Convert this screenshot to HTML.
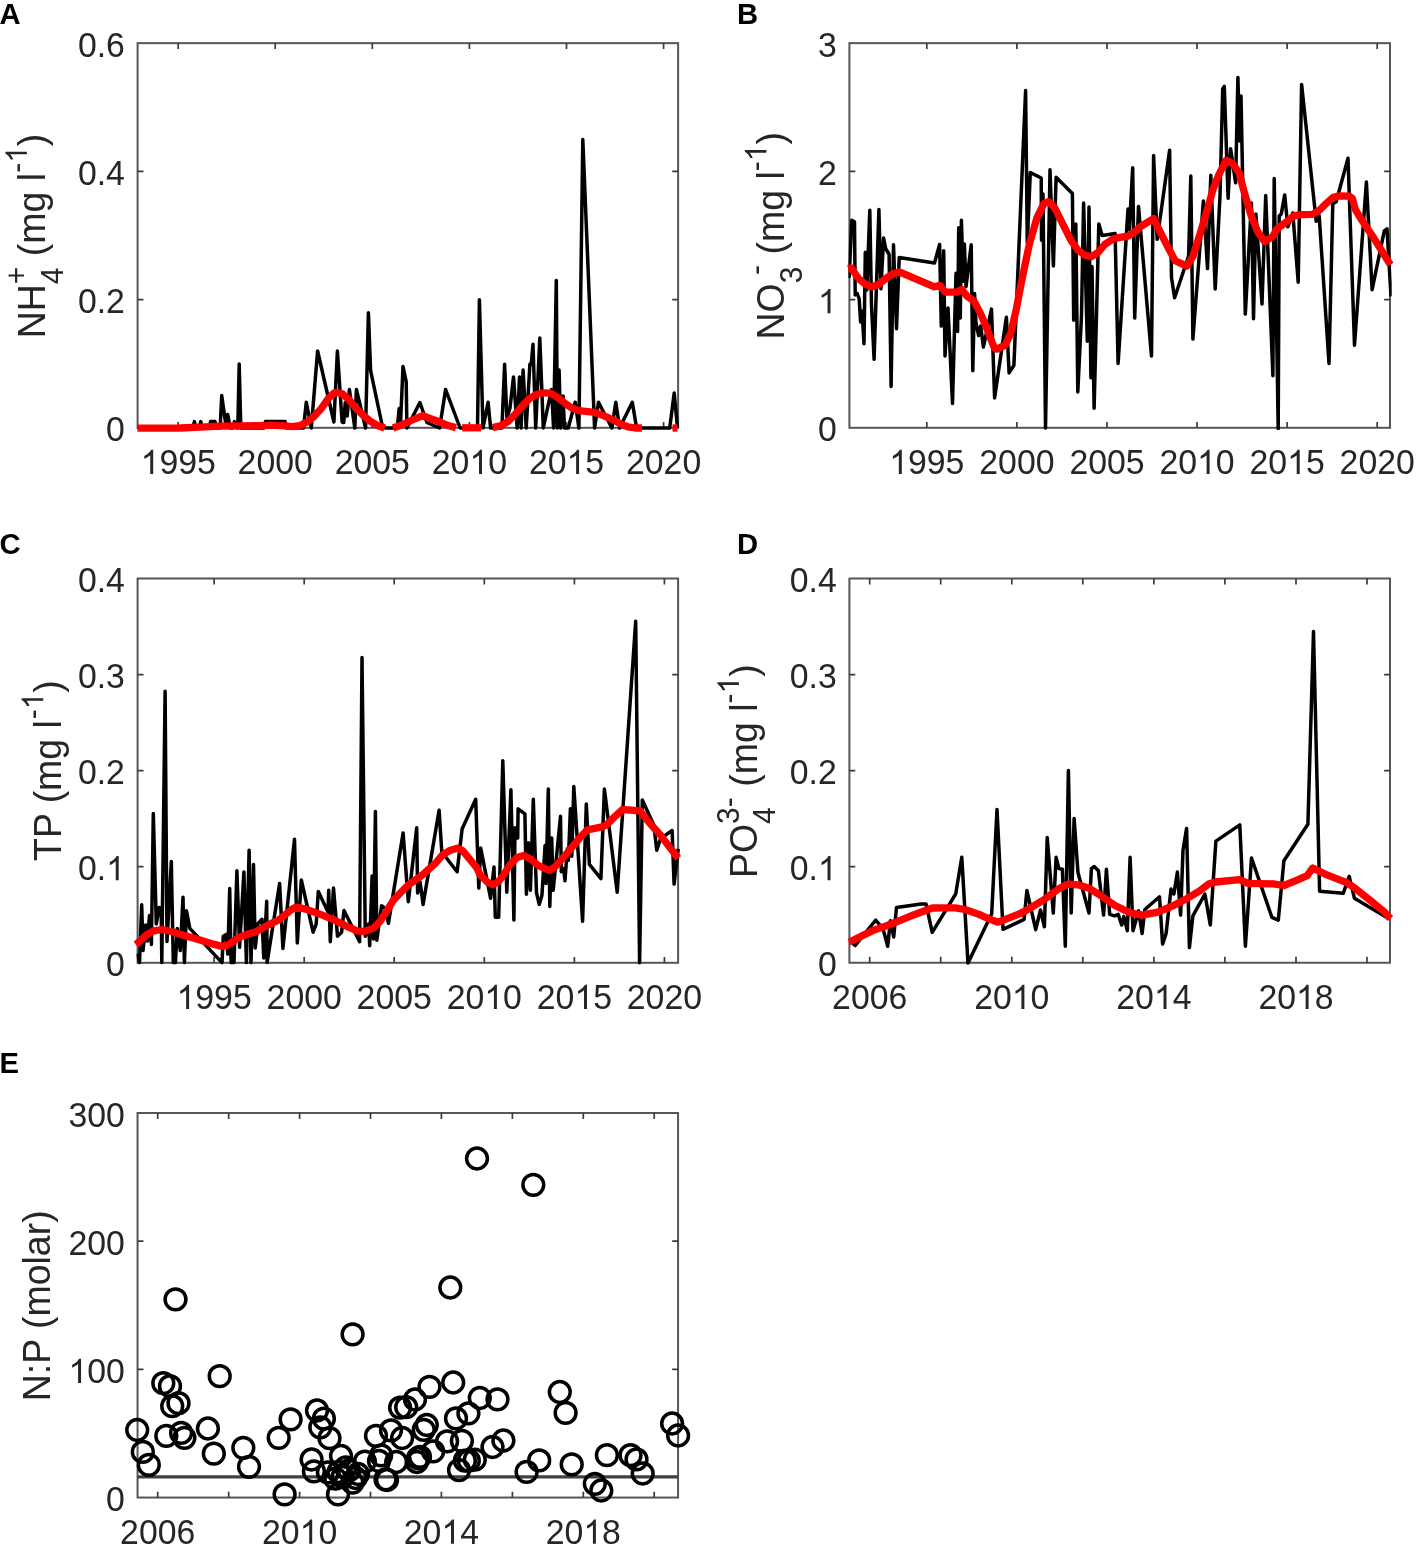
<!DOCTYPE html>
<html lang="en"><head><meta charset="utf-8"><title>Figure</title>
<style>
html,body{margin:0;padding:0;background:#fff}
svg{display:block}
text{font-family:"Liberation Sans",sans-serif;fill:#262626}
text{filter:grayscale(1)}
.t{font-size:33.8px}
.l{font-size:37.5px}
.s{font-size:30.00px}
  .b{font-size:29.2px;font-weight:bold;fill:#000}
</style></head><body>
<svg width="1418" height="1549" viewBox="0 0 1418 1549">
<rect width="1418" height="1549" fill="#fff"/>
<defs>
<clipPath id="ca"><rect x="136.5" y="43" width="543.5" height="387"/></clipPath>
<clipPath id="cb"><rect x="848.5" y="43" width="543.2" height="387"/></clipPath>
<clipPath id="cc"><rect x="136.5" y="578" width="543.5" height="387"/></clipPath>
<clipPath id="cd"><rect x="848.5" y="578" width="543.2" height="387"/></clipPath>
<clipPath id="ce"><rect x="137.5" y="1113" width="541" height="384"/></clipPath>
</defs>

<rect x="137.6" y="43.15" width="540.5" height="384.65000000000003" fill="none" stroke="#565656" stroke-width="2.0"/>
<path d="M178.2,427.8v-5.9M178.2,43.15v5.9M275.2,427.8v-5.9M275.2,43.15v5.9M372.3,427.8v-5.9M372.3,43.15v5.9M469.4,427.8v-5.9M469.4,43.15v5.9M566.5,427.8v-5.9M566.5,43.15v5.9M663.6,427.8v-5.9M663.6,43.15v5.9M137.6,299.6h5.9M678.1,299.6h-5.9M137.6,171.4h5.9M678.1,171.4h-5.9" fill="none" stroke="#3c3c3c" stroke-width="1.7"/>
<path transform="translate(140.61,474.10) scale(0.01650,-0.01650)" d="M763 0H583V1147Q518 1085 412.5 1023T223 930V1104Q373 1175 485.5 1275T645 1470H763Z" fill="#262626"/>
<text transform="translate(159.41,474.10) scale(1,1.04)" class="t">995</text>
<text transform="translate(237.61,474.10) scale(1,1.04)" class="t">2000</text>
<text transform="translate(334.71,474.10) scale(1,1.04)" class="t">2005</text>
<text transform="translate(431.81,474.10) scale(1,1.04)" class="t">20</text>
<path transform="translate(469.40,474.10) scale(0.01650,-0.01650)" d="M763 0H583V1147Q518 1085 412.5 1023T223 930V1104Q373 1175 485.5 1275T645 1470H763Z" fill="#262626"/>
<text transform="translate(488.19,474.10) scale(1,1.04)" class="t">0</text>
<text transform="translate(528.91,474.10) scale(1,1.04)" class="t">20</text>
<path transform="translate(566.50,474.10) scale(0.01650,-0.01650)" d="M763 0H583V1147Q518 1085 412.5 1023T223 930V1104Q373 1175 485.5 1275T645 1470H763Z" fill="#262626"/>
<text transform="translate(585.29,474.10) scale(1,1.04)" class="t">5</text>
<text transform="translate(626.01,474.10) scale(1,1.04)" class="t">2020</text>
<text transform="translate(106.11,441.40) scale(1,1.04)" class="t">0</text>
<text transform="translate(77.92,313.20) scale(1,1.04)" class="t">0.2</text>
<text transform="translate(77.92,185.00) scale(1,1.04)" class="t">0.4</text>
<text transform="translate(77.92,56.75) scale(1,1.04)" class="t">0.6</text>
<polyline points="137.5,428 192.8,428 194.4,421.6 196,428 199.2,428 200.8,421.6 202.4,428 209,428 210.6,421.6 215,421.6 216.6,428 220.2,428 221.7,395.5 225.8,424 227.7,414.5 230.3,428 232.8,428 234.4,421.6 236.4,426 237.8,428 239.2,364 240.8,428 263.8,428 265.4,421.6 285.1,421.6 286.7,428 303.5,428 306.3,402.3 311.3,428 317.6,351 333.9,422 337.4,351 342.1,422 343.7,422.5 345.3,402.5 347.2,416 349.4,389.5 354.8,428 356.4,389.5 365.6,428 368.4,312.7 370.6,370.5 382,424.5 385.3,428 397.3,428 399.2,408.5 400.5,424 403,366.5 406.2,381.5 406.9,428 419.9,402.5 426.9,422.5 439.6,428 445.6,389.5 460.1,428 477.5,428 479.4,299.8 483,428 488.1,402.3 490.6,428 501.9,428 504.6,364.2 506.9,418 510,408 513.5,377 517.2,428 519.5,377 521.1,428 523.1,370 526.2,428 529.9,364 531.3,364 533,344.3 535.7,428 539.8,338 543.3,428 551.5,389.6 553.6,428 556.3,280.5 557.3,428 559.1,370 560.6,428 563.1,396 564.4,428 568.2,428 575.2,402.3 578.9,428 582.8,139.5 594.6,428 598.5,402.3 611.9,428 615.8,402.3 619.6,428 632.3,402.3 636.6,428 669.7,428 674.2,393 677.5,428" fill="none" stroke="#000" stroke-width="3.5" stroke-linejoin="round" stroke-linecap="butt" clip-path="url(#ca)"/>
<polyline points="137.5,428.2 180,428 200,427.2 220,426.2 240,425.8 260,425.6 271,425.2 285,425.9 292,426.6 300,425.5 307.1,422 314.1,416.4 321.2,408.6 328.2,398.7 333.9,393.1 337.4,392.4 342.3,393.8 349.4,400.1 356.4,408.6 363.5,415.7 370.5,421.3 377.6,425.5 384.6,428" fill="none" stroke="#f00" stroke-width="7.3" stroke-linejoin="round" stroke-linecap="butt"/>
<polyline points="393.1,428 400,425.5 408,422 415,418.8 422.7,415.7 430,418.5 440,422 448,425.5 455.9,427.6" fill="none" stroke="#f00" stroke-width="7.3" stroke-linejoin="round" stroke-linecap="butt"/>
<polyline points="462.2,427.8 481.2,427.8" fill="none" stroke="#f00" stroke-width="7.3" stroke-linejoin="round" stroke-linecap="butt"/>
<polyline points="492.7,427.6 501.2,425.5 508.2,421.3 515.3,414.2 522.3,405.8 529.4,398.7 536.4,394.5 543.5,392.8 550.5,393.1 557.6,397.3 564.6,403 571.7,407.9 578.7,410.7 585.8,411.4 592.8,412.1 599.9,414.2 606.9,417.1 614,420.6 621,424.1 628.1,426.9 635.1,428 641.9,428" fill="none" stroke="#f00" stroke-width="7.3" stroke-linejoin="round" stroke-linecap="butt"/>
<polyline points="672.5,428 677.5,428" fill="none" stroke="#f00" stroke-width="7.3" stroke-linejoin="round" stroke-linecap="butt"/>
<g transform="translate(44.9,236.0) rotate(-90)">
<text transform="translate(-102.29,0.00) scale(1,1.04)" class="l">NH</text>
<text transform="translate(-48.14,18.00) scale(1,1.04)" class="s">4</text>
<text transform="translate(-48.14,-18.00) scale(1,1.04)" class="s">+</text>
<text transform="translate(-20.19,0.00) scale(1,1.04)" class="l">(mg l</text>
<text transform="translate(63.13,-18.00) scale(1,1.04)" class="s">-</text>
<path transform="translate(73.12,-18.00) scale(0.01465,-0.01465)" d="M763 0H583V1147Q518 1085 412.5 1023T223 930V1104Q373 1175 485.5 1275T645 1470H763Z" fill="#262626"/>
<text transform="translate(89.80,0.00) scale(1,1.04)" class="l">)</text>
</g>
<text transform="translate(-0.4,24.2) scale(1,1.04)" class="b">A</text>
<rect x="849.4" y="43.15" width="540.6" height="384.65000000000003" fill="none" stroke="#565656" stroke-width="2.0"/>
<path d="M926.8,427.8v-5.9M926.8,43.15v5.9M1016.9,427.8v-5.9M1016.9,43.15v5.9M1107.0,427.8v-5.9M1107.0,43.15v5.9M1197.0,427.8v-5.9M1197.0,43.15v5.9M1287.1,427.8v-5.9M1287.1,43.15v5.9M1377.2,427.8v-5.9M1377.2,43.15v5.9M849.4,299.6h5.9M1390.0,299.6h-5.9M849.4,171.4h5.9M1390.0,171.4h-5.9" fill="none" stroke="#3c3c3c" stroke-width="1.7"/>
<path transform="translate(889.21,474.10) scale(0.01650,-0.01650)" d="M763 0H583V1147Q518 1085 412.5 1023T223 930V1104Q373 1175 485.5 1275T645 1470H763Z" fill="#262626"/>
<text transform="translate(908.01,474.10) scale(1,1.04)" class="t">995</text>
<text transform="translate(979.31,474.10) scale(1,1.04)" class="t">2000</text>
<text transform="translate(1069.41,474.10) scale(1,1.04)" class="t">2005</text>
<text transform="translate(1159.41,474.10) scale(1,1.04)" class="t">20</text>
<path transform="translate(1197.00,474.10) scale(0.01650,-0.01650)" d="M763 0H583V1147Q518 1085 412.5 1023T223 930V1104Q373 1175 485.5 1275T645 1470H763Z" fill="#262626"/>
<text transform="translate(1215.79,474.10) scale(1,1.04)" class="t">0</text>
<text transform="translate(1249.51,474.10) scale(1,1.04)" class="t">20</text>
<path transform="translate(1287.10,474.10) scale(0.01650,-0.01650)" d="M763 0H583V1147Q518 1085 412.5 1023T223 930V1104Q373 1175 485.5 1275T645 1470H763Z" fill="#262626"/>
<text transform="translate(1305.89,474.10) scale(1,1.04)" class="t">5</text>
<text transform="translate(1339.61,474.10) scale(1,1.04)" class="t">2020</text>
<text transform="translate(817.91,441.40) scale(1,1.04)" class="t">0</text>
<path transform="translate(817.91,313.20) scale(0.01650,-0.01650)" d="M763 0H583V1147Q518 1085 412.5 1023T223 930V1104Q373 1175 485.5 1275T645 1470H763Z" fill="#262626"/>
<text transform="translate(817.91,185.00) scale(1,1.04)" class="t">2</text>
<text transform="translate(817.91,56.75) scale(1,1.04)" class="t">3</text>
<polyline points="849.1,278 851.8,220.3 854.5,221.7 855.2,294.9 857.2,293.5 859.2,299 860.6,322 862,311 864,343.7 865.3,252.2 866.8,290 869.8,210.2 871.5,305 874.1,359.3 878.9,209.5 880.9,288.8 883.6,238 885.7,248.8 889.1,254.2 891.1,386.4 893.5,244.7 896.5,328.8 899.2,257.6 934.5,263 939.6,244.5 941.3,326.1 943.7,250.8 945,355.9 948,308 952.5,403.4 956,273.2 957.6,331.5 958.7,227.8 960.3,318 961.4,220.3 963.3,281.3 964.4,244.1 966,286.8 971.2,244.7 972.8,370.8 974.6,293.5 975.9,322 978.6,335.6 980.7,326 983.4,347.1 991.5,309.1 994.6,397.9 1006.4,317.3 1009.1,372.9 1013.9,365.4 1025.6,90.5 1027.3,243 1030.3,172.5 1041.2,178 1041.5,240.3 1043,194 1045.5,428 1050,169.8 1053.4,266 1056.1,177.3 1072.4,193.5 1073.7,320.2 1075.8,224 1077.8,392 1081.5,315 1083.6,203 1087.3,341.2 1089,207.1 1090.9,377.8 1092,266.6 1094.1,408.3 1098.8,224 1102.2,235.6 1115.1,233.5 1118.1,363.5 1128,209.1 1129.3,229.5 1132.7,167.8 1134.7,318.1 1138.5,206.4 1151.5,356.1 1153.6,155.6 1157.2,239.3 1169.6,150.2 1171.5,277.5 1174.6,297.8 1188.6,256 1190.8,175.9 1192.9,339.1 1203.4,201 1207.5,268.6 1210.8,175.2 1215.2,289 1220,195.6 1222.7,89 1224.3,86.4 1228.1,198.3 1230.6,148.8 1235.6,182.7 1237.9,77.4 1239.7,141 1241,95.9 1245.3,314.1 1251.4,203 1253.5,318.8 1255.9,213.9 1262,303.9 1265.7,195.6 1272.9,375.7 1274.2,178.6 1278.2,428.5 1279.2,215.9 1281.3,213.9 1284.7,194.9 1287.8,226.8 1292.8,213 1298.2,282.2 1301.6,84.4 1316.2,221.3 1319.2,215.9 1329,363.5 1332.8,203.7 1336.2,201.7 1348,158.3 1354.5,345.2 1366.4,182 1372.1,289.7 1384.3,230.8 1387,228.8 1391,296.4" fill="none" stroke="#000" stroke-width="3.5" stroke-linejoin="round" stroke-linecap="butt" clip-path="url(#cb)"/>
<polyline points="848,268.5 851.1,267.8 858.6,278.6 865.3,284.1 872.1,286.8 878.9,284.1 885.7,278.6 892.5,273.9 899.2,271.9 934.5,286.8 939.9,285.4 945.4,292.2 956.3,292.2 961.7,289.5 967.1,296.3 973.9,301 980.7,313.9 987.5,330.2 994.2,347.8 996.9,349.1 1005.1,345.1 1010.5,334.2 1015.9,311.2 1021.3,282.7 1029.5,243.4 1037.1,217.3 1043.9,203.7 1048.6,201.7 1054.7,207.8 1064.2,226.8 1071,240.3 1077.8,249.8 1084.6,255.2 1091.3,256.6 1098.1,252.5 1104.9,244.4 1113,239 1118.5,237.6 1128,236.2 1134.7,232.2 1140,226.8 1153.6,218.6 1156.9,225.4 1167.1,245.7 1175.2,260.7 1186.8,266.1 1192.9,256.6 1201,230.8 1207.8,207.8 1213.2,188.8 1218.6,175.2 1226.1,160.3 1232.2,163 1239,172.5 1244.4,192.9 1251.2,215.9 1257.9,232.2 1264.7,241.7 1272.9,236.2 1276.5,229.5 1285.3,222.7 1294.1,215.9 1300.2,214.6 1312.5,214.3 1319.2,210.5 1326,203.7 1332.8,197.6 1338.2,196 1349.1,196.2 1352.4,198.3 1355.2,209.1 1359.9,217.3 1373.5,237.6 1390.4,264.7" fill="none" stroke="#f00" stroke-width="7.3" stroke-linejoin="round" stroke-linecap="butt"/>
<g transform="translate(784.4,235.75) rotate(-90)">
<text transform="translate(-103.72,0.00) scale(1,1.04)" class="l">NO</text>
<text transform="translate(-47.47,18.00) scale(1,1.04)" class="s">3</text>
<text transform="translate(-39.17,-18.00) scale(1,1.04)" class="s">-</text>
<text transform="translate(-18.76,0.00) scale(1,1.04)" class="l">(mg l</text>
<text transform="translate(64.57,-18.00) scale(1,1.04)" class="s">-</text>
<path transform="translate(74.56,-18.00) scale(0.01465,-0.01465)" d="M763 0H583V1147Q518 1085 412.5 1023T223 930V1104Q373 1175 485.5 1275T645 1470H763Z" fill="#262626"/>
<text transform="translate(91.24,0.00) scale(1,1.04)" class="l">)</text>
</g>
<text transform="translate(736.9,24.2) scale(1,1.04)" class="b">B</text>
<rect x="137.6" y="578.5" width="540.5" height="384.29999999999995" fill="none" stroke="#565656" stroke-width="2.0"/>
<path d="M214.1,962.8v-5.9M214.1,578.5v5.9M304.2,962.8v-5.9M304.2,578.5v5.9M394.2,962.8v-5.9M394.2,578.5v5.9M484.3,962.8v-5.9M484.3,578.5v5.9M574.4,962.8v-5.9M574.4,578.5v5.9M664.4,962.8v-5.9M664.4,578.5v5.9M137.6,866.7h5.9M678.1,866.7h-5.9M137.6,770.65h5.9M678.1,770.65h-5.9M137.6,674.6h5.9M678.1,674.6h-5.9" fill="none" stroke="#3c3c3c" stroke-width="1.7"/>
<path transform="translate(176.51,1009.10) scale(0.01650,-0.01650)" d="M763 0H583V1147Q518 1085 412.5 1023T223 930V1104Q373 1175 485.5 1275T645 1470H763Z" fill="#262626"/>
<text transform="translate(195.31,1009.10) scale(1,1.04)" class="t">995</text>
<text transform="translate(266.61,1009.10) scale(1,1.04)" class="t">2000</text>
<text transform="translate(356.61,1009.10) scale(1,1.04)" class="t">2005</text>
<text transform="translate(446.71,1009.10) scale(1,1.04)" class="t">20</text>
<path transform="translate(484.30,1009.10) scale(0.01650,-0.01650)" d="M763 0H583V1147Q518 1085 412.5 1023T223 930V1104Q373 1175 485.5 1275T645 1470H763Z" fill="#262626"/>
<text transform="translate(503.09,1009.10) scale(1,1.04)" class="t">0</text>
<text transform="translate(536.81,1009.10) scale(1,1.04)" class="t">20</text>
<path transform="translate(574.40,1009.10) scale(0.01650,-0.01650)" d="M763 0H583V1147Q518 1085 412.5 1023T223 930V1104Q373 1175 485.5 1275T645 1470H763Z" fill="#262626"/>
<text transform="translate(593.19,1009.10) scale(1,1.04)" class="t">5</text>
<text transform="translate(626.81,1009.10) scale(1,1.04)" class="t">2020</text>
<text transform="translate(106.11,976.40) scale(1,1.04)" class="t">0</text>
<text transform="translate(77.92,880.30) scale(1,1.04)" class="t">0.</text>
<path transform="translate(106.11,880.30) scale(0.01650,-0.01650)" d="M763 0H583V1147Q518 1085 412.5 1023T223 930V1104Q373 1175 485.5 1275T645 1470H763Z" fill="#262626"/>
<text transform="translate(77.92,784.25) scale(1,1.04)" class="t">0.2</text>
<text transform="translate(77.92,688.20) scale(1,1.04)" class="t">0.3</text>
<text transform="translate(77.92,592.10) scale(1,1.04)" class="t">0.4</text>
<polyline points="137.7,953.6 139.5,962.6 141.7,904.8 143,950.5 145.7,925 147.5,941 149.5,915.5 151.4,944.4 153.3,813.6 156.3,923.9 159.2,907.5 161.2,909 161.8,962.6 165.1,691.3 167,941.4 171.3,861.5 173.3,962.6 175.4,962.6 177.3,928.4 180.3,950.5 183,897.2 184.4,962.6 186.5,910.7 189.8,928.4 222,962.6 223.3,936.3 226.2,934.6 227.8,954 229.7,888.5 231.1,962.6 234,962.6 236.9,870.8 239.6,947.3 243.9,872 246.4,962.6 249.1,850.3 251,962.6 253.5,864.6 255.2,948 258,923.5 262,919.3 263.8,958 266.7,901.3 267.1,962.6 279.6,883.4 282.9,948.4 294.5,839.3 297.3,943 301.3,880 313.1,932.2 316.2,924 318.3,891.5 328,912 328.7,890.2 330.3,941.7 333.5,888.1 337.5,936.2 341.6,932.2 344,910.5 359.6,941.7 362,657.6 365.3,936.2 368.7,924 369.7,945.7 372.1,875.9 373.5,939 375.4,811.6 376.8,940.3 381.6,905.7 385.7,909 388.4,923.4 403.1,833 408.3,901.7 416.7,827.8 417.6,893 420.1,882 423.1,904.4 439.1,810.2 441.8,852 457.1,871.8 462.1,829.1 475.7,799.3 478.8,888.1 480.7,848.1 490.6,898.3 494,867.1 495.3,917.3 498.7,917.3 502.8,760.7 506.8,892.2 510.9,789.8 513.9,920 515,827.8 517.7,838 518.1,808.8 524.9,813.8 526.4,894.2 528.4,842.7 530.4,890.2 533.3,799.3 536.5,892.9 539.2,904.4 541.9,895.6 545.1,845.4 546,883.4 548.3,789.1 549.8,906.4 551.7,838 553.2,890.2 560.5,816.3 561.3,871.8 563.6,868.5 565,880.7 567.3,848.8 568.4,860.3 570.4,808.8 571.8,856.3 573.8,786.4 582.6,921.3 586.3,804.1 589.4,864.4 600.9,878.6 604.4,789.1 617.2,892.2 635.7,621.2 639.6,962.7 642.3,800 653.8,825.1 656.8,850.2 660.6,838.6 672.1,830.5 674.1,884.1 678.2,848.8" fill="none" stroke="#000" stroke-width="3.5" stroke-linejoin="round" stroke-linecap="butt" clip-path="url(#cc)"/>
<polyline points="135.7,944.4 137.7,943 146.6,934.9 153.3,930.8 162.8,929.5 173.7,932.2 187.2,936.2 200.8,940.3 214.3,944.4 221.8,946.4 227.9,945.1 236,939.2 242.3,935.9 248.2,934 255,932.2 260.5,929.3 268.7,924.6 278.6,920 292.1,909.1 296.2,907.1 305.7,909.1 319.2,913.9 332.8,919.3 346.3,926.1 357.2,930.8 364,931.5 373.5,928.1 380.2,921.3 387,910.5 393.8,899.6 401.8,891.5 408.6,884.7 422.1,875.2 435.7,863 442.5,854.9 449.2,850.8 457.4,848.1 462.8,850.8 469.6,859 476.3,867.1 480.4,875.2 487.2,882 492.6,884.7 498,882 503.5,875.2 510.2,864.4 517,857.6 523.8,855.6 530.6,859 538.6,865.7 549.4,870.5 554.8,867.1 565.7,854.9 579.2,838.6 587.4,829.8 600.9,827.1 606.3,825.1 613.1,818.3 622.6,809.5 640.2,810.8 646.8,819.7 653.8,827.8 660.6,835.2 667.3,844.1 678.2,858.3" fill="none" stroke="#f00" stroke-width="7.3" stroke-linejoin="round" stroke-linecap="butt"/>
<g transform="translate(61.2,770.6) rotate(-90)">
<text transform="translate(-90.42,0.00) scale(1,1.04)" class="l">TP (mg l</text>
<text transform="translate(51.26,-18.00) scale(1,1.04)" class="s">-</text>
<path transform="translate(61.25,-18.00) scale(0.01465,-0.01465)" d="M763 0H583V1147Q518 1085 412.5 1023T223 930V1104Q373 1175 485.5 1275T645 1470H763Z" fill="#262626"/>
<text transform="translate(77.93,0.00) scale(1,1.04)" class="l">)</text>
</g>
<text transform="translate(-0.4,553.8) scale(1,1.04)" class="b">C</text>
<rect x="849.4" y="578.5" width="540.6" height="384.25" fill="none" stroke="#565656" stroke-width="2.0"/>
<path d="M869.7,962.75v-5.9M869.7,578.5v5.9M940.7,962.75v-5.9M940.7,578.5v5.9M1011.8,962.75v-5.9M1011.8,578.5v5.9M1082.8,962.75v-5.9M1082.8,578.5v5.9M1153.9,962.75v-5.9M1153.9,578.5v5.9M1224.9,962.75v-5.9M1224.9,578.5v5.9M1296.0,962.75v-5.9M1296.0,578.5v5.9M1367.0,962.75v-5.9M1367.0,578.5v5.9M849.4,866.7h5.9M1390.0,866.7h-5.9M849.4,770.65h5.9M1390.0,770.65h-5.9M849.4,674.6h5.9M1390.0,674.6h-5.9" fill="none" stroke="#3c3c3c" stroke-width="1.7"/>
<text transform="translate(832.11,1009.05) scale(1,1.04)" class="t">2006</text>
<text transform="translate(974.21,1009.05) scale(1,1.04)" class="t">20</text>
<path transform="translate(1011.80,1009.05) scale(0.01650,-0.01650)" d="M763 0H583V1147Q518 1085 412.5 1023T223 930V1104Q373 1175 485.5 1275T645 1470H763Z" fill="#262626"/>
<text transform="translate(1030.59,1009.05) scale(1,1.04)" class="t">0</text>
<text transform="translate(1116.31,1009.05) scale(1,1.04)" class="t">20</text>
<path transform="translate(1153.90,1009.05) scale(0.01650,-0.01650)" d="M763 0H583V1147Q518 1085 412.5 1023T223 930V1104Q373 1175 485.5 1275T645 1470H763Z" fill="#262626"/>
<text transform="translate(1172.69,1009.05) scale(1,1.04)" class="t">4</text>
<text transform="translate(1258.41,1009.05) scale(1,1.04)" class="t">20</text>
<path transform="translate(1296.00,1009.05) scale(0.01650,-0.01650)" d="M763 0H583V1147Q518 1085 412.5 1023T223 930V1104Q373 1175 485.5 1275T645 1470H763Z" fill="#262626"/>
<text transform="translate(1314.79,1009.05) scale(1,1.04)" class="t">8</text>
<text transform="translate(817.91,976.40) scale(1,1.04)" class="t">0</text>
<text transform="translate(789.72,880.30) scale(1,1.04)" class="t">0.</text>
<path transform="translate(817.91,880.30) scale(0.01650,-0.01650)" d="M763 0H583V1147Q518 1085 412.5 1023T223 930V1104Q373 1175 485.5 1275T645 1470H763Z" fill="#262626"/>
<text transform="translate(789.72,784.25) scale(1,1.04)" class="t">0.2</text>
<text transform="translate(789.72,688.20) scale(1,1.04)" class="t">0.3</text>
<text transform="translate(789.72,592.10) scale(1,1.04)" class="t">0.4</text>
<polyline points="849.9,940.5 855.2,945.5 875.7,920.1 883,928.6 887.7,946.2 890.4,920.8 893.7,937 896.5,907.4 921.2,903.9 926.1,904.1 932.2,932.4 955.7,894 961.8,857.3 968,963.1 991.7,913.7 997,809.4 1003,929.3 1024.1,919.4 1026.9,890.5 1035.7,929.7 1040.5,910 1044.4,926.8 1047.2,837.6 1053.3,913 1056.1,857.3 1058.9,868.6 1062.4,869.3 1065.3,946.2 1068.4,770.6 1071.2,913 1074.1,818.5 1078,872.8 1089,913 1091.4,868.6 1094.2,866.5 1098.4,870.7 1103.6,915.1 1106.4,869.3 1109.7,914.4 1114.6,915.9 1118.2,914.4 1121.7,925 1123.8,916.6 1127.3,930.7 1130.1,857.3 1133,930.7 1138.6,910.9 1142.1,933.5 1144.9,909.5 1159.5,896.8 1162.6,944.1 1166.1,933.5 1171,889.1 1173.9,894 1177.4,872.1 1180.6,915.1 1183,850.3 1186.6,828.4 1189.4,947.6 1192.9,915.9 1204.9,894 1210.3,925 1215.9,841.1 1239.8,824.9 1245.4,946.2 1251.5,858 1271.9,917.3 1278.3,920.1 1283.9,860.8 1307.9,824.2 1313.5,631.5 1319.6,891.2 1343.2,893.3 1349.2,876.4 1354.4,898.2 1389,918.7" fill="none" stroke="#000" stroke-width="3.5" stroke-linejoin="round" stroke-linecap="butt" clip-path="url(#cd)"/>
<polyline points="849.2,942.2 859.1,937.3 873.2,930.4 887.3,925.5 901.4,919.9 915.5,914.2 932.4,908 943.7,907.9 955,907.9 964.9,909.5 979,914.4 990.3,919.4 998,922.2 1007.2,918.7 1021.3,913 1032.6,906.7 1044.1,899.6 1058.2,889.1 1068.1,884.1 1078,884.8 1089.2,888.3 1100.5,895.4 1114.6,905.3 1128.7,912.3 1141.4,915.1 1156.9,912.3 1171,906.7 1185.1,899.6 1199.3,891.2 1208.5,884.1 1215.5,882 1239.5,879.6 1248,883.4 1273.3,883.8 1283.9,885.5 1295.9,880.6 1307.2,875.7 1312.8,867.9 1326.9,874.9 1346.7,882.7 1355.1,888.3 1369.3,899.6 1384.8,912.3 1390.4,918.7" fill="none" stroke="#f00" stroke-width="7.3" stroke-linejoin="round" stroke-linecap="butt"/>
<g transform="translate(756.9,771.2) rotate(-90)">
<text transform="translate(-106.88,0.00) scale(1,1.04)" class="l">PO</text>
<text transform="translate(-52.70,18.00) scale(1,1.04)" class="s">4</text>
<text transform="translate(-52.70,-18.00) scale(1,1.04)" class="s">3-</text>
<text transform="translate(-15.60,0.00) scale(1,1.04)" class="l">(mg l</text>
<text transform="translate(67.72,-18.00) scale(1,1.04)" class="s">-</text>
<path transform="translate(77.71,-18.00) scale(0.01465,-0.01465)" d="M763 0H583V1147Q518 1085 412.5 1023T223 930V1104Q373 1175 485.5 1275T645 1470H763Z" fill="#262626"/>
<text transform="translate(94.39,0.00) scale(1,1.04)" class="l">)</text>
</g>
<text transform="translate(736.9,553.8) scale(1,1.04)" class="b">D</text>
<rect x="137.55" y="1113.0" width="540.51" height="384.54999999999995" fill="none" stroke="#565656" stroke-width="2.0"/>
<path d="M157.7,1497.55v-5.9M157.7,1113.0v5.9M228.7,1497.55v-5.9M228.7,1113.0v5.9M299.6,1497.55v-5.9M299.6,1113.0v5.9M370.5,1497.55v-5.9M370.5,1113.0v5.9M441.4,1497.55v-5.9M441.4,1113.0v5.9M512.4,1497.55v-5.9M512.4,1113.0v5.9M583.3,1497.55v-5.9M583.3,1113.0v5.9M654.2,1497.55v-5.9M654.2,1113.0v5.9M137.55,1369.4h5.9M678.06,1369.4h-5.9M137.55,1241.2h5.9M678.06,1241.2h-5.9" fill="none" stroke="#3c3c3c" stroke-width="1.7"/>
<text transform="translate(120.11,1543.85) scale(1,1.04)" class="t">2006</text>
<text transform="translate(262.01,1543.85) scale(1,1.04)" class="t">20</text>
<path transform="translate(299.60,1543.85) scale(0.01650,-0.01650)" d="M763 0H583V1147Q518 1085 412.5 1023T223 930V1104Q373 1175 485.5 1275T645 1470H763Z" fill="#262626"/>
<text transform="translate(318.39,1543.85) scale(1,1.04)" class="t">0</text>
<text transform="translate(403.81,1543.85) scale(1,1.04)" class="t">20</text>
<path transform="translate(441.40,1543.85) scale(0.01650,-0.01650)" d="M763 0H583V1147Q518 1085 412.5 1023T223 930V1104Q373 1175 485.5 1275T645 1470H763Z" fill="#262626"/>
<text transform="translate(460.19,1543.85) scale(1,1.04)" class="t">4</text>
<text transform="translate(545.71,1543.85) scale(1,1.04)" class="t">20</text>
<path transform="translate(583.30,1543.85) scale(0.01650,-0.01650)" d="M763 0H583V1147Q518 1085 412.5 1023T223 930V1104Q373 1175 485.5 1275T645 1470H763Z" fill="#262626"/>
<text transform="translate(602.09,1543.85) scale(1,1.04)" class="t">8</text>
<text transform="translate(106.06,1511.15) scale(1,1.04)" class="t">0</text>
<path transform="translate(68.47,1383.00) scale(0.01650,-0.01650)" d="M763 0H583V1147Q518 1085 412.5 1023T223 930V1104Q373 1175 485.5 1275T645 1470H763Z" fill="#262626"/>
<text transform="translate(87.26,1383.00) scale(1,1.04)" class="t">00</text>
<text transform="translate(68.47,1254.80) scale(1,1.04)" class="t">200</text>
<text transform="translate(68.47,1126.60) scale(1,1.04)" class="t">300</text>
<line x1="137.55" y1="1476.9" x2="678.06" y2="1476.9" stroke="#404040" stroke-width="3.1"/>
<g fill="none" stroke="#000" stroke-width="3.5">
<circle cx="175.5" cy="1299.3" r="10.4"/>
<circle cx="163.3" cy="1383.2" r="10.4"/>
<circle cx="170" cy="1386.2" r="10.4"/>
<circle cx="219.7" cy="1376.2" r="10.4"/>
<circle cx="172.2" cy="1406.2" r="10.4"/>
<circle cx="178.5" cy="1403.2" r="10.4"/>
<circle cx="137.2" cy="1430" r="10.4"/>
<circle cx="166.3" cy="1435.9" r="10.4"/>
<circle cx="181.1" cy="1432.9" r="10.4"/>
<circle cx="184.4" cy="1437.8" r="10.4"/>
<circle cx="207.9" cy="1428.5" r="10.4"/>
<circle cx="142.8" cy="1451.9" r="10.4"/>
<circle cx="148.8" cy="1464.9" r="10.4"/>
<circle cx="213.8" cy="1453.7" r="10.4"/>
<circle cx="243.3" cy="1447.8" r="10.4"/>
<circle cx="249" cy="1466.8" r="10.4"/>
<circle cx="278.7" cy="1437.8" r="10.4"/>
<circle cx="290.6" cy="1419.3" r="10.4"/>
<circle cx="284.6" cy="1494.3" r="10.4"/>
<circle cx="317" cy="1410.5" r="10.4"/>
<circle cx="323.9" cy="1418.7" r="10.4"/>
<circle cx="320.3" cy="1427.3" r="10.4"/>
<circle cx="329.5" cy="1438.2" r="10.4"/>
<circle cx="311.6" cy="1459.5" r="10.4"/>
<circle cx="313.9" cy="1471.3" r="10.4"/>
<circle cx="341" cy="1456" r="10.4"/>
<circle cx="338" cy="1494.4" r="10.4"/>
<circle cx="352.6" cy="1334.3" r="10.4"/>
<circle cx="327.9" cy="1472.3" r="10.4"/>
<circle cx="335.3" cy="1478.7" r="10.4"/>
<circle cx="345.8" cy="1467.4" r="10.4"/>
<circle cx="358" cy="1474" r="10.4"/>
<circle cx="355.5" cy="1478" r="10.4"/>
<circle cx="352.5" cy="1482.6" r="10.4"/>
<circle cx="364.9" cy="1461.6" r="10.4"/>
<circle cx="338.5" cy="1472" r="10.4"/>
<circle cx="349" cy="1470.5" r="10.4"/>
<circle cx="342.5" cy="1477" r="10.4"/>
<circle cx="376" cy="1435.8" r="10.4"/>
<circle cx="381.1" cy="1455.4" r="10.4"/>
<circle cx="379" cy="1461" r="10.4"/>
<circle cx="385.5" cy="1479.4" r="10.4"/>
<circle cx="387" cy="1480" r="10.4"/>
<circle cx="391" cy="1430.3" r="10.4"/>
<circle cx="396.2" cy="1462" r="10.4"/>
<circle cx="400.1" cy="1407.6" r="10.4"/>
<circle cx="406.2" cy="1407.2" r="10.4"/>
<circle cx="402.1" cy="1438" r="10.4"/>
<circle cx="415" cy="1399.5" r="10.4"/>
<circle cx="429.5" cy="1386.8" r="10.4"/>
<circle cx="453.2" cy="1382.5" r="10.4"/>
<circle cx="426.8" cy="1425" r="10.4"/>
<circle cx="423.7" cy="1429.8" r="10.4"/>
<circle cx="418.1" cy="1458.1" r="10.4"/>
<circle cx="416.8" cy="1462" r="10.4"/>
<circle cx="420" cy="1456.8" r="10.4"/>
<circle cx="433.1" cy="1451.4" r="10.4"/>
<circle cx="447.1" cy="1441.4" r="10.4"/>
<circle cx="461.9" cy="1440.9" r="10.4"/>
<circle cx="456" cy="1418.4" r="10.4"/>
<circle cx="468.4" cy="1413.3" r="10.4"/>
<circle cx="479.8" cy="1398" r="10.4"/>
<circle cx="497.5" cy="1399.3" r="10.4"/>
<circle cx="503.4" cy="1440.5" r="10.4"/>
<circle cx="492.5" cy="1447" r="10.4"/>
<circle cx="464.9" cy="1460.7" r="10.4"/>
<circle cx="468.8" cy="1460.7" r="10.4"/>
<circle cx="474.8" cy="1459.7" r="10.4"/>
<circle cx="459" cy="1470.1" r="10.4"/>
<circle cx="526.6" cy="1471.9" r="10.4"/>
<circle cx="539.2" cy="1460.4" r="10.4"/>
<circle cx="559.8" cy="1392" r="10.4"/>
<circle cx="565.6" cy="1412.9" r="10.4"/>
<circle cx="571.7" cy="1464.4" r="10.4"/>
<circle cx="606.9" cy="1455.2" r="10.4"/>
<circle cx="630.5" cy="1455.2" r="10.4"/>
<circle cx="636.5" cy="1459.4" r="10.4"/>
<circle cx="642.7" cy="1473.5" r="10.4"/>
<circle cx="594.8" cy="1483.8" r="10.4"/>
<circle cx="601.3" cy="1490.5" r="10.4"/>
<circle cx="672.1" cy="1423.5" r="10.4"/>
<circle cx="678.1" cy="1435.5" r="10.4"/>
<circle cx="477" cy="1158.5" r="10.4"/>
<circle cx="533.3" cy="1184.8" r="10.4"/>
<circle cx="450.3" cy="1287.5" r="10.4"/>
</g>
<g transform="translate(50.0,1305.5) rotate(-90)">
<text transform="translate(-95.83,0.00) scale(1,1.04)" class="l">N:P (molar)</text>
</g>
<text transform="translate(-0.4,1072.9) scale(1,1.04)" class="b">E</text>
</svg></body></html>
